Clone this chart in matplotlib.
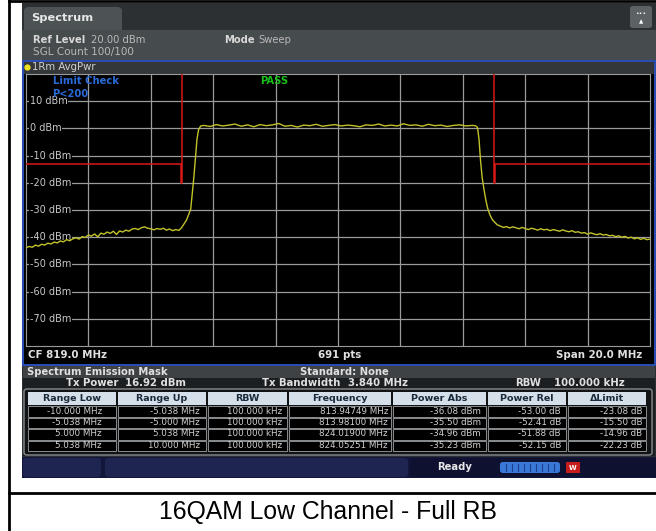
import matplotlib.pyplot as plt
from matplotlib.patches import Rectangle, FancyBboxPatch
from matplotlib.lines import Line2D

# trace (MHz, dBm)
freq = [809.0, 809.1, 809.2, 809.3, 809.4, 809.5, 809.6, 809.7, 809.8, 809.9,
        810.0, 810.1, 810.2, 810.3, 810.4, 810.5, 810.6, 810.7, 810.8, 810.9,
        811.0, 811.1, 811.2, 811.3, 811.4, 811.5, 811.6, 811.7, 811.8, 811.9,
        812.0, 812.1, 812.2, 812.3, 812.4, 812.5, 812.6, 812.7, 812.8, 812.9,
        813.0, 813.1, 813.2, 813.3, 813.4, 813.5, 813.6, 813.7, 813.8, 813.9,
        813.98, 814.06, 814.14, 814.22, 814.28, 814.33, 814.38, 814.43, 814.48, 814.53,
        814.6,
        814.7, 814.9, 815.1, 815.3, 815.5, 815.7, 815.9, 816.1, 816.3, 816.5,
        816.7, 816.9, 817.1, 817.3, 817.5, 817.7, 817.9, 818.1, 818.3, 818.5,
        818.7, 818.9, 819.1, 819.3, 819.5, 819.7, 819.9, 820.1, 820.3, 820.5,
        820.7, 820.9, 821.1, 821.3, 821.5, 821.7, 821.9, 822.1, 822.3, 822.5,
        822.7, 822.9, 823.1, 823.3,
        823.4, 823.47, 823.52, 823.57, 823.62, 823.68, 823.74, 823.8, 823.87, 823.95,
        824.03, 824.1, 824.2, 824.3, 824.4, 824.5, 824.6, 824.7, 824.8, 824.9,
        825.0, 825.1, 825.2, 825.3, 825.4, 825.5, 825.6, 825.7, 825.8, 825.9,
        826.0, 826.1, 826.2, 826.3, 826.4, 826.5, 826.6, 826.7, 826.8, 826.9,
        827.0, 827.1, 827.2, 827.3, 827.4, 827.5, 827.6, 827.7, 827.8, 827.9,
        828.0, 828.1, 828.2, 828.3, 828.4, 828.5, 828.6, 828.7, 828.8, 828.9,
        829.0]
level = [-43.9, -43.4, -43.7, -42.9, -43.3, -42.6, -42.9, -42.2, -42.5, -41.8,
         -42.1, -41.4, -41.7, -40.9, -41.3, -40.6, -40.2, -40.7, -39.8, -40.1,
         -39.2, -39.6, -38.8, -39.9, -38.5, -38.9, -38.1, -38.6, -37.8, -39.0,
         -37.7, -38.1, -37.4, -37.8, -37.0, -36.8, -37.2, -36.5, -36.2, -36.7,
         -36.9, -37.3, -36.8, -37.1, -36.7, -37.4, -37.0, -37.6, -37.2, -37.5,
         -36.6, -35.2, -33.8, -31.5, -29.6, -24.0, -18.0, -11.0, -4.0, -0.5,
         0.9,
         1.1, 0.7, 1.4, 0.9, 1.2, 1.6, 0.8, 1.3, 0.6, 1.4,
         1.0, 1.3, 1.8, 0.8, 1.1, 0.5, 1.2, 1.0, 1.5, 0.8,
         1.1, 1.4, 0.9, 1.2, 1.0, 0.6, 1.3, 1.1, 1.6, 0.9,
         1.2, 0.9, 1.7, 1.1, 1.3, 0.8, 1.5, 1.0, 1.2, 0.7,
         1.1, 1.3, 0.9, 1.1,
         1.0, 0.4, -4.0, -12.0, -18.0, -22.5, -26.5, -29.5, -31.8, -33.6,
         -34.6, -35.4, -35.9, -36.4, -36.1, -36.6, -36.2, -36.5, -36.9, -36.4,
         -36.8, -37.2, -36.7, -37.0, -37.4, -36.9, -37.3, -37.1, -37.6, -37.2,
         -37.5, -37.8, -37.3, -37.7, -38.0, -37.6, -38.2, -38.0, -38.5, -38.3,
         -38.9, -38.4, -38.8, -39.1, -38.7, -39.2, -39.0, -39.5, -39.3, -39.8,
         -39.5, -40.0, -39.7, -40.3, -40.0, -40.6, -40.2, -40.8, -40.4, -40.9,
         -40.7]

# limit lines
lim_left_f = [809.0, 813.962, 813.962, 814.0, 814.0]
lim_left_db = [-13, -13, -20, -20, 40]
lim_right_f = [824.0, 824.0, 824.038, 824.038, 829.0]
lim_right_db = [40, -20, -20, -13, -13]

y_levels = [10, 0, -10, -20, -30, -40, -50, -60, -70]
x_grid = [811, 813, 815, 817, 819, 821, 823, 825, 827]

table_head = ["Range Low", "Range Up", "RBW", "Frequency", "Power Abs", "Power Rel", "\u0394Limit"]
table_rows = [
    ["-10.000 MHz", "-5.038 MHz", "100.000 kHz", "813.94749 MHz", "-36.08 dBm", "-53.00 dB", "-23.08 dB"],
    ["-5.038 MHz", "-5.000 MHz", "100.000 kHz", "813.98100 MHz", "-35.50 dBm", "-52.41 dB", "-15.50 dB"],
    ["5.000 MHz", "5.038 MHz", "100.000 kHz", "824.01900 MHz", "-34.96 dBm", "-51.88 dB", "-14.96 dB"],
    ["5.038 MHz", "10.000 MHz", "100.000 kHz", "824.05251 MHz", "-35.23 dBm", "-52.15 dB", "-22.23 dB"],
]
col_edges = [27, 117, 207, 288, 392, 487, 567, 647]
col_pad = [15, 7, 6, 4, 6, 6, 5]

W, H = 656, 531
fig = plt.figure(figsize=(W / 100, H / 100), dpi=100)
fig.patch.set_facecolor("white")


def fx(x):
    return x / W


def fy(y):
    return 1 - y / H


def rect(x0, y0, x1, y1, color, ec="none", lw=0, round_=0, z=1):
    if round_:
        p = FancyBboxPatch((fx(x0), fy(y1)), (x1 - x0) / W, (y1 - y0) / H,
                           boxstyle=f"round,pad=0,rounding_size={round_ / W}",
                           transform=fig.transFigure, fc=color, ec=ec, lw=lw, zorder=z)
    else:
        p = Rectangle((fx(x0), fy(y1)), (x1 - x0) / W, (y1 - y0) / H,
                      transform=fig.transFigure, fc=color, ec=ec, lw=lw, zorder=z)
    fig.add_artist(p)


def txt(x, y, s, size=7.2, color="#d8d8d8", weight="normal", ha="left", **kw):
    fig.text(fx(x), fy(y), s, fontsize=size, color=color, weight=weight,
             ha=ha, va="center", family="DejaVu Sans", zorder=5, **kw)


# page frame
fig.add_artist(Line2D([fx(9), fx(9)], [0, 1], color="black", lw=2))
fig.add_artist(Line2D([fx(9), 1], [fy(1), fy(1)], color="black", lw=2))
fig.add_artist(Line2D([fx(9), 1], [fy(493), fy(493)], color="black", lw=2))

# instrument screen
rect(22, 3, 656, 478, "#2c3032")
rect(24, 7, 122, 34, "#4d5254", round_=5)
rect(22, 30, 656, 60, "#464b4d")
txt(31, 18, "Spectrum", size=8.2, weight="bold", color="#e8e8e8")
rect(630, 6, 652, 28, "#5c6164", round_=3)
txt(641, 13, "\u2022\u2022\u2022", size=4.5, color="white", ha="center")
txt(641, 22, "\u25b2", size=4, color="white", ha="center")
txt(33, 40, "Ref Level", weight="bold")
txt(91, 40, "20.00 dBm", color="#b8b8b8")
txt(33, 52, "SGL Count 100/100", size=7.5, color="#b8b8b8")
txt(224, 40, "Mode", weight="bold")
txt(258, 40, "Sweep", color="#b8b8b8")

# display window
rect(23, 61, 655, 365, "black", ec="#2a4bb0", lw=1.5)
rect(24, 62, 654, 74, "#33373a")
fig.add_artist(Line2D([fx(27)], [fy(67)], marker="o", ms=3.5, color="#f0e020",
                      transform=fig.transFigure, zorder=5))
txt(32, 67, "1Rm AvgPwr", size=7.3, color="#d0d0d0")
txt(28, 355, "CF 819.0 MHz", size=7.4, weight="bold", color="#e0e0e0")
txt(340, 355, "691 pts", size=7.4, weight="bold", color="#e0e0e0", ha="center")
txt(642, 355, "Span 20.0 MHz", size=7.4, weight="bold", color="#e0e0e0", ha="right")

ax = fig.add_axes([fx(26), fy(346), (650 - 26) / W, (346 - 74) / H])
ax.set_zorder(3)
ax.set_facecolor("black")
ax.set_xlim(809, 829)
ax.set_ylim(-80, 20)
ax.set_xticks(x_grid)
ax.set_yticks(y_levels)
ax.tick_params(length=0, labelbottom=False, labelleft=False)
ax.grid(True, color="#9a9a9a", lw=0.9)
for s in ax.spines.values():
    s.set_color("#9a9a9a")
ax.plot(lim_left_f, lim_left_db, color="#d81818", lw=1.1, zorder=3)
ax.plot(lim_right_f, lim_right_db, color="#d81818", lw=1.1, zorder=3)
ax.plot(freq, level, color="#c2c22c", lw=1.0, zorder=4)
for lv in y_levels:
    ax.text(809.12, lv, f"{lv} dBm", fontsize=7, color="#c8c8c8", va="center",
            bbox=dict(fc="black", ec="none", pad=0.5), zorder=3.5)
ax.text(809.85, 17.4, "Limit Check", fontsize=7.2, weight="bold", color="#2a6ad8", va="center", zorder=6)
ax.text(809.85, 12.8, "P<200", fontsize=7.2, weight="bold", color="#2a6ad8", va="center", zorder=6)
ax.text(816.5, 17.4, "PASS", fontsize=7.2, weight="bold", color="#18c018", va="center", zorder=6)

# result summary
rect(23, 366, 655, 378, "#3e4244")
txt(27, 372, "Spectrum Emission Mask", weight="bold", color="#e0e0e0")
txt(300, 372, "Standard: None", weight="bold", color="#e0e0e0")
rect(23, 378, 655, 456, "#1c1f21")
txt(66, 383, "Tx Power", size=7.3, weight="bold", color="#e0e0e0")
txt(125, 383, "16.92 dBm", size=7.3, weight="bold", color="#e0e0e0")
txt(262, 383, "Tx Bandwidth", size=7.3, weight="bold", color="#e0e0e0")
txt(348, 383, "3.840 MHz", size=7.3, weight="bold", color="#e0e0e0")
txt(515, 383, "RBW", size=7.3, weight="bold", color="#e0e0e0")
txt(554, 383, "100.000 kHz", size=7.3, weight="bold", color="#e0e0e0")

rect(24, 389, 652, 455, "#111314", ec="#8a8e90", lw=1, round_=3)
row_y = [392, 405, 417, 428, 440, 451]
for i in range(len(table_head)):
    x0, x1 = col_edges[i], col_edges[i + 1]
    rect(x0 + 1, row_y[0], x1 - 1, row_y[1], "#d4dfea")
    txt((x0 + x1) / 2, (row_y[0] + row_y[1]) / 2, table_head[i], size=6.8, weight="bold",
        color="#1a2a3a", ha="center")
    for r, row in enumerate(table_rows):
        y0, y1 = row_y[r + 1], row_y[r + 2]
        rect(x0 + 1, y0 + 0.5, x1 - 1, y1 - 0.5, "black", ec="#8a8e90", lw=0.7)
        txt(x1 - col_pad[i], (y0 + y1) / 2, row[i], size=6.3, color="#cfcfcf", ha="right")

# status bar
rect(22, 457, 656, 478, "#11163a")
rect(23, 458, 101, 477, "#1e2550", round_=4)
rect(105, 458, 408, 477, "#1e2550", round_=4)
rect(410, 458, 656, 477, "#0e1230")
txt(437, 467, "Ready", weight="bold", color="#e8e8e8")
rect(500, 462, 560, 473, "#3a78d8", round_=3)
for k in range(9):
    xs = 506 + k * 6
    fig.add_artist(Line2D([fx(xs), fx(xs)], [fy(471), fy(464)], color="#1a3f90", lw=0.8))
rect(566, 462, 580, 473, "#c81c1c")
txt(573, 467.5, "W", size=5, weight="bold", color="white", ha="center")

# caption
fig.text(fx(328), fy(512), "16QAM Low Channel - Full RB", fontsize=17.8,
         family="Liberation Sans", ha="center", va="center", color="black")

fig.savefig("out.png", dpi=100, facecolor="white")
